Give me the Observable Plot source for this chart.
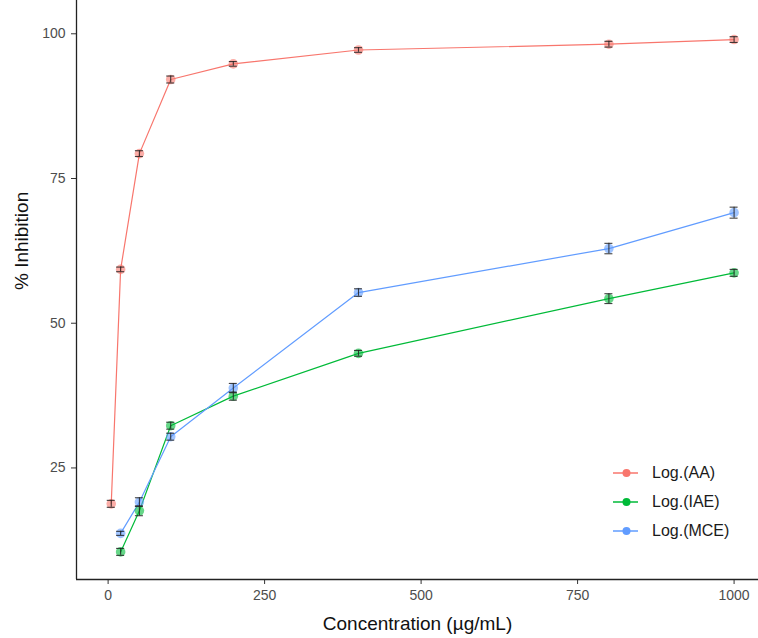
<!DOCTYPE html>
<html>
<head>
<meta charset="utf-8">
<script src="https://cdn.jsdelivr.net/npm/d3@7"></script>
<script src="https://cdn.jsdelivr.net/npm/@observablehq/plot@0.6"></script>
<style>
  body { margin: 0; background: #fff; font-family: "Liberation Sans", Arial, sans-serif; }
  #wrap { position: relative; width: 758px; height: 638px; }
  #legend { position: absolute; left: 605px; top: 458px; font-size: 16px; color: #1a1a1a; }
  #legend .item { display: flex; align-items: center; height: 29.3px; }
  #legend svg { margin-right: 13px; }
</style>
</head>
<body>
<div id="wrap"></div>
<script>
// Data
const seriesNames = ["Log.(AA)", "Log.(IAE)", "Log.(MCE)"];
const seriesColors = ["#F8766D", "#00BA38", "#619CFF"];
const concAA = [5, 20, 50, 100, 200, 400, 800, 1000];
const concExtracts = [20, 50, 100, 200, 400, 800, 1000];
const aaValues = [18.8, 59.3, 79.3, 92.1, 94.8, 97.2, 98.2, 99.0];
const aaErrors = [0.6, 0.4, 0.5, 0.6, 0.4, 0.4, 0.5, 0.5];
const iaeValues = [10.5, 17.6, 32.3, 37.4, 44.8, 54.25, 58.7];
const iaeErrors = [0.6, 0.85, 0.6, 0.7, 0.5, 0.85, 0.6];
const mceValues = [13.7, 19.1, 30.4, 38.8, 55.3, 62.9, 69.1];
const mceErrors = [0.35, 0.75, 0.6, 0.8, 0.65, 0.9, 0.95];
const xTicks = [0, 250, 500, 750, 1000];
const yTicks = [25, 50, 75, 100];

const rows = [];
concAA.forEach((c, i) => rows.push({s: seriesNames[0], x: c, y: aaValues[i], e: aaErrors[i]}));
concExtracts.forEach((c, i) => rows.push({s: seriesNames[1], x: c, y: iaeValues[i], e: iaeErrors[i]}));
concExtracts.forEach((c, i) => rows.push({s: seriesNames[2], x: c, y: mceValues[i], e: mceErrors[i]}));

const whisker = 6.4; // half-width of error bar caps in x units

const chart = Plot.plot({
  width: 758,
  height: 638,
  marginLeft: 76,
  marginRight: 0,
  marginTop: 0,
  marginBottom: 59,
  style: {fontFamily: "'Liberation Sans', Arial, sans-serif", background: "#fff"},
  x: {domain: [-50.5, 1039]},
  y: {domain: [5.73, 105.75]},
  color: {domain: seriesNames, range: seriesColors},
  marks: [
    Plot.axisX({ticks: xTicks, tickFormat: "d", tickSize: 5, tickPadding: 6, fontSize: 14, color: "#4D4D4D", stroke: "#333", label: null}),
    Plot.axisY({ticks: yTicks, tickFormat: "d", tickSize: 5, tickPadding: 6, fontSize: 14, color: "#4D4D4D", stroke: "#333", label: null}),
    Plot.ruleY([5.73], {stroke: "#222", strokeWidth: 1.3}),
    Plot.ruleX([-50.5], {stroke: "#222", strokeWidth: 1.3}),
    Plot.line(rows, {x: "x", y: "y", z: "s", stroke: "s", strokeWidth: 1.2}),
    Plot.dot(rows, {x: "x", y: "y", fill: "s", r: 4.8, fillOpacity: 0.6}),
    Plot.ruleX(rows, {x: "x", y1: d => d.y - d.e, y2: d => d.y + d.e, stroke: "#222", strokeWidth: 1.1, strokeOpacity: 0.85}),
    Plot.ruleY(rows, {y: d => d.y - d.e, x1: d => d.x - whisker, x2: d => d.x + whisker, stroke: "#222", strokeWidth: 1.1, strokeOpacity: 0.85}),
    Plot.ruleY(rows, {y: d => d.y + d.e, x1: d => d.x - whisker, x2: d => d.x + whisker, stroke: "#222", strokeWidth: 1.1, strokeOpacity: 0.85}),
    Plot.text(["Concentration (µg/mL)"], {frameAnchor: "bottom", dy: 50, fontSize: 19, fill: "#111", text: d => d}),
    Plot.text(["% Inhibition"], {frameAnchor: "left", dx: -55, rotate: -90, fontSize: 19, fill: "#111", text: d => d})
  ]
});
const wrap = document.getElementById("wrap");
wrap.appendChild(chart);

const legend = document.createElement("div");
legend.id = "legend";
seriesNames.forEach((name, i) => {
  const item = document.createElement("div");
  item.className = "item";
  item.innerHTML = `<svg width="34" height="12"><line x1="8" x2="33" y1="6" y2="6" stroke="${seriesColors[i]}" stroke-width="1.5"/><circle cx="21.5" cy="6" r="4" fill="${seriesColors[i]}"/></svg><span>${name}</span>`;
  legend.appendChild(item);
});
wrap.appendChild(legend);
</script>
</body>
</html>
